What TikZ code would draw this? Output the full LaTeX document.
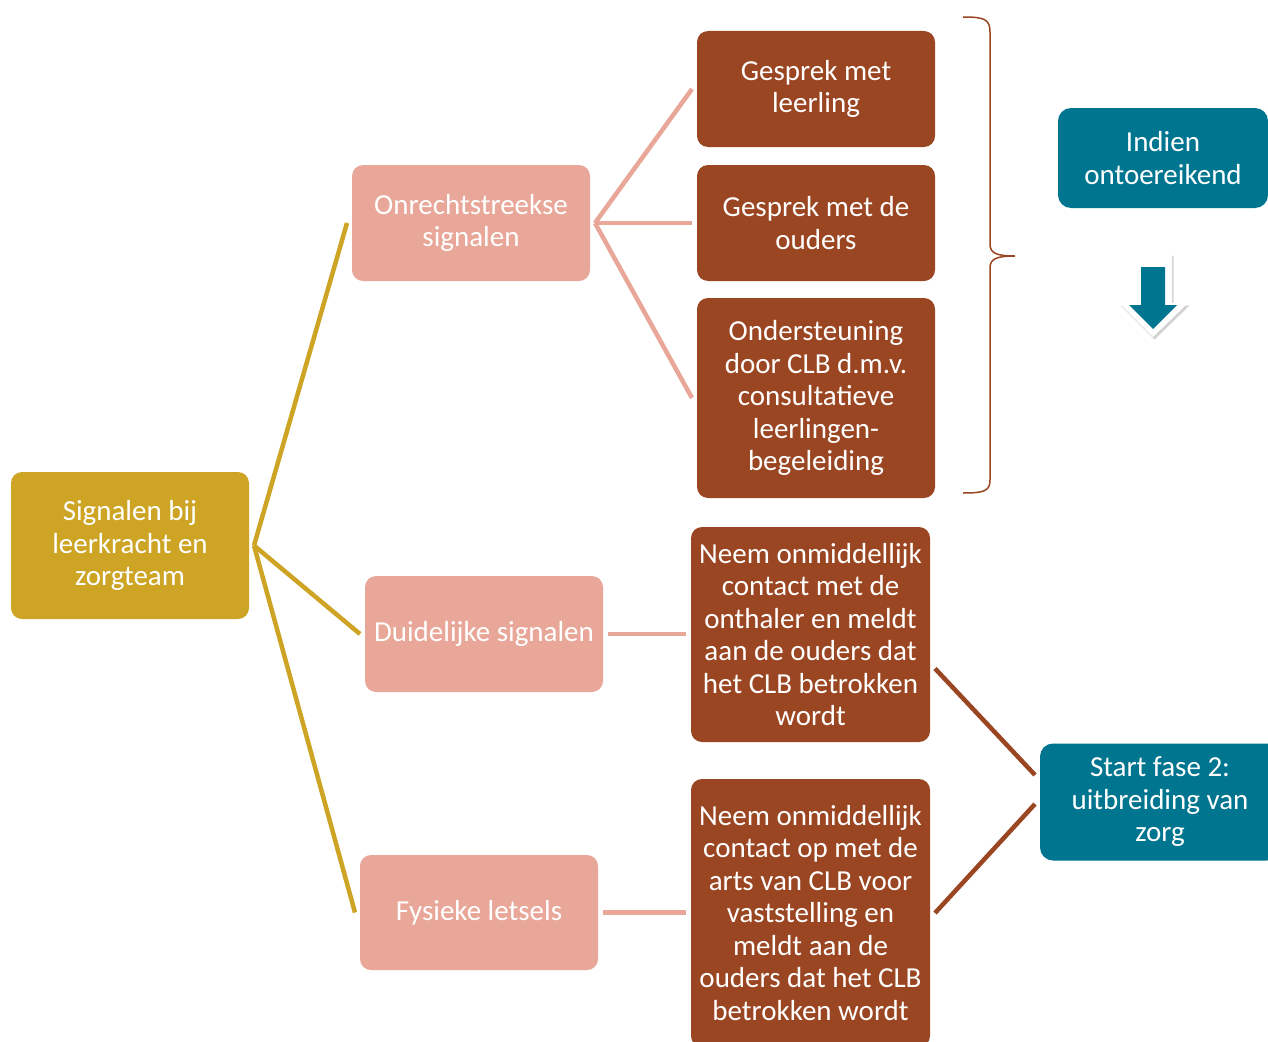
\documentclass[tikz,border=0pt]{standalone}
\usepackage{fontspec}
\setmainfont{Carlito}
\usetikzlibrary{calc,shadows}
\definecolor{goldc}{HTML}{CDA424}
\definecolor{pinkc}{HTML}{E8A798}
\definecolor{brownc}{HTML}{9B4622}
\definecolor{tealc}{HTML}{00758F}
\begin{document}
\begin{tikzpicture}[x=1pt,y=-1pt,
  box/.style={rounded corners=11pt, text=white, align=center,
    font=\fontsize{29}{32.5}\selectfont, inner sep=0pt, outer sep=5pt},
  goldbox/.style={box, fill=goldc},
  pinkbox/.style={box, fill=pinkc},
  brownbox/.style={box, fill=brownc},
  tealbox/.style={box, fill=tealc, rounded corners=13pt},
  goldline/.style={draw=goldc, line width=4.5pt},
  pinkline/.style={draw=pinkc, line width=4.5pt},
  brownline/.style={draw=brownc, line width=4.5pt}]
\clip (0,0) rectangle (1268,1041);
\fill[white] (0,0) rectangle (1268,1041);

\node[goldbox, minimum width=238pt, minimum height=147pt] (main) at (130,545.5) {Signalen bij\\leerkracht en\\zorgteam};

\node[pinkbox, minimum width=238pt, minimum height=116pt] (onr) at (471,223) {Onrechtstreekse\\signalen};
\node[pinkbox, minimum width=238pt, minimum height=116pt] (dui) at (484,634) {Duidelijke signalen};
\node[pinkbox, minimum width=238pt, minimum height=115pt] (fys) at (479,912.5) {Fysieke letsels};

\node[brownbox, minimum width=238pt, minimum height=116pt] (g1) at (816,89) {Gesprek met\\leerling};
\node[brownbox, minimum width=238pt, minimum height=116pt] (g2) at (816,223) {Gesprek met de\\ouders};
\node[brownbox, minimum width=238pt, minimum height=200pt] (ond) at (816,398) {Ondersteuning\\door CLB d.m.v.\\consultatieve\\leerlingen-\\begeleiding};
\node[brownbox, minimum width=239pt, minimum height=215pt] (neem1) at (810.5,634.5) {Neem onmiddellijk\\contact met de\\onthaler en meldt\\aan de ouders dat\\het CLB betrokken\\wordt};
\node[brownbox, minimum width=239pt, minimum height=268pt] (neem2) at (810.5,913) {Neem onmiddellijk\\contact op met de\\arts van CLB voor\\vaststelling en\\meldt aan de\\ouders dat het CLB\\betrokken wordt};

\node[tealbox, minimum width=210pt, minimum height=100pt] (ind) at (1163,158) {Indien\\ontoereikend};
\node[tealbox, minimum width=240pt, minimum height=117pt] (start) at (1160,802) {Start fase 2:\\uitbreiding van\\zorg};

% connectors
\draw[goldline] (main.east) -- (onr.west);
\draw[goldline] (main.east) -- (dui.west);
\draw[goldline] (main.east) -- (fys.west);
\draw[pinkline] (onr.east) -- (g1.west);
\draw[pinkline] (onr.east) -- (g2.west);
\draw[pinkline] (onr.east) -- (ond.west);
\draw[pinkline] (dui.east) -- (neem1.west |- dui.east);
\draw[pinkline] (fys.east) -- (neem2.west |- fys.east);
\draw[brownline] ([yshift=-34pt]neem1.east) -- ([yshift=27pt]start.west);
\draw[brownline] (neem2.east) -- ([yshift=-2pt]start.west);

% brace
\coordinate (bt) at (963,17);
\coordinate (bm) at (1015,256);
\coordinate (bb) at (963,493);
\draw[brownc, line width=1.5pt]
  (bt) .. controls (984,17) and (990,19) .. (990,32) -- (990,244)
  .. controls (990,253) and (996,256) .. (bm)
  .. controls (996,256) and (990,259) .. (990,268) -- (990,480)
  .. controls (990,491) and (984,493) .. (bb);

% arrow
\fill[white, drop shadow={opacity=0.35, shadow xshift=1.5pt, shadow yshift=-2.5pt}]
  (1133,253) -- (1172,253) -- (1172,303) -- (1188,303) -- (1153,337)
  -- (1119,303) -- (1133,303) -- cycle;
\fill[tealc] (1141,267) -- (1165,267) -- (1165,305) -- (1177,305) -- (1153,329)
  -- (1129,305) -- (1141,305) -- cycle;
\end{tikzpicture}
\end{document}
